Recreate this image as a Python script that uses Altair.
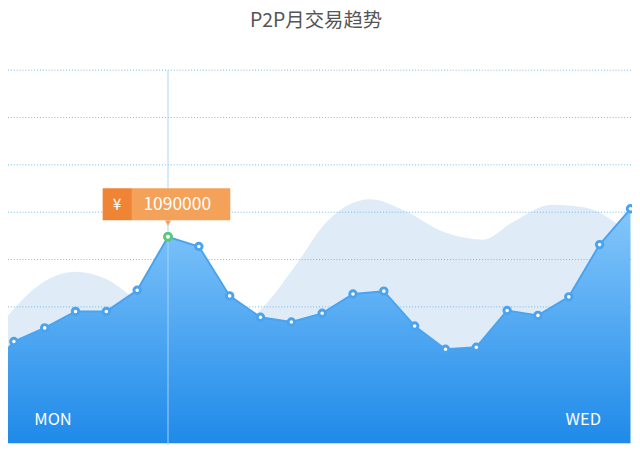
import altair as alt
import pandas as pd

# foreground series (day index, value)
idx = [-0.5, 0, 1, 2, 3, 4, 5, 6, 7, 8, 9, 10, 11, 12, 13, 14, 15, 16, 17, 18, 19, 20]
vals = [440000, 537000, 609000, 696000, 696000, 808000, 1090000, 1039000, 778000, 665000, 640000,
        686000, 788000, 803000, 619000, 496000, 507000, 701000, 675000, 773000, 1049000, 1238000]
# background smooth series
bg_x = [-0.19, 0.89, 2.0, 2.96, 4.08, 5.35, 6.94, 8.06, 9.17, 10.13, 11.56, 12.68, 13.95, 15.22, 16.18, 17.45, 18.57, 20]
bg_v = [675000, 844000, 906000, 870000, 742000, 588000, 588000, 716000, 947000, 1167000, 1289000,
        1228000, 1115000, 1075000, 1167000, 1259000, 1243000, 1100000]
grid_vals = [720000, 970000, 1220000, 1470000, 1720000, 1970000]
hi_idx = 5
hi_val = 1090000
labels = ["MON", "WED"]
label_x = [1.27, 18.47]

X = alt.Scale(domain=[-0.19, 20.05], nice=False, zero=False)
Y = alt.Scale(domain=[-10000, 2262000], nice=False, zero=False)
noax = dict(axis=None)

fg = pd.DataFrame({"i": idx, "v": vals})
pts = fg[fg.i >= 0]
bg = pd.DataFrame({"i": bg_x, "v": bg_v})

bg_area = alt.Chart(bg).mark_area(color="#dfecf8", opacity=1, interpolate="monotone", clip=True).encode(
    x=alt.X("i:Q", scale=X, **noax), y=alt.Y("v:Q", scale=Y, **noax))

grid = alt.Chart(pd.DataFrame({"g": grid_vals})).mark_rule(
    color="#6fb8e8", strokeDash=[1, 2], strokeWidth=1).encode(
    y=alt.Y("g:Q", scale=Y, **noax), x=alt.value(0), x2=alt.value(644))

area = alt.Chart(fg).mark_area(
    clip=True, opacity=1,
    line={"color": "#4aa3ef", "strokeWidth": 2},
    color=alt.Gradient(gradient="linear", x1=0, x2=0, y1=0, y2=1,
                       stops=[alt.GradientStop(color="#84c7fb", offset=0),
                              alt.GradientStop(color="#1f8ae9", offset=1)])).encode(
    x=alt.X("i:Q", scale=X, **noax), y=alt.Y("v:Q", scale=Y, **noax))

rule = alt.Chart(pd.DataFrame({"i": [hi_idx], "a": [1970000], "b": [-10000]})).mark_rule(
    color="#a9d6f5", strokeWidth=1).encode(
    x=alt.X("i:Q", scale=X, **noax), y=alt.Y("a:Q", scale=Y, **noax), y2="b:Q")

points = alt.Chart(pts).mark_point(filled=True, fill="white", stroke="#4aa3ef",
                                   strokeWidth=3, size=45, opacity=1).encode(
    x=alt.X("i:Q", scale=X, **noax), y=alt.Y("v:Q", scale=Y, **noax))

hp = alt.Chart(pd.DataFrame({"i": [hi_idx], "v": [hi_val]})).mark_point(
    filled=True, fill="white", stroke="#5cc87a", strokeWidth=3, size=50, opacity=1).encode(
    x=alt.X("i:Q", scale=X, **noax), y=alt.Y("v:Q", scale=Y, **noax))

box = pd.DataFrame({"x": [2.88, 3.83], "x2": [3.83, 7.02], "c": ["#ee8434", "#f4a259"]})
tip = alt.Chart(box).mark_rect().encode(
    x=alt.X("x:Q", scale=X, **noax), x2="x2:Q",
    y=alt.value(179), y2=alt.value(212), color=alt.Color("c:N", scale=None, legend=None))
tri = alt.Chart(pd.DataFrame({"i": [hi_idx]})).mark_point(
    shape="triangle-down", filled=True, color="#f4a259", size=40, opacity=1).encode(
    x=alt.X("i:Q", scale=X, **noax), y=alt.value(215))
t1 = alt.Chart(pd.DataFrame({"i": [3.35], "t": ["¥"]})).mark_text(
    color="white", fontSize=16, font="Noto Sans CJK SC").encode(
    x=alt.X("i:Q", scale=X, **noax), y=alt.value(196), text="t:N")
t2 = alt.Chart(pd.DataFrame({"i": [5.3], "t": [str(hi_val)]})).mark_text(
    color="white", fontSize=18, font="Noto Sans CJK SC").encode(
    x=alt.X("i:Q", scale=X, **noax), y=alt.value(196), text="t:N")

lab = alt.Chart(pd.DataFrame({"i": label_x, "t": labels})).mark_text(
    color="white", fontSize=17, font="Noto Sans CJK SC").encode(
    x=alt.X("i:Q", scale=X, **noax), y=alt.value(418), text="t:N")

title = alt.Chart(pd.DataFrame({"t": ["P2P月交易趋势"]})).mark_text(
    color="#555555", fontSize=20, font="Noto Sans CJK SC", baseline="top").encode(
    x=alt.value(318), y=alt.value(-4), text="t:N")

chart = alt.layer(bg_area, grid, area, rule, points, hp, tip, tri, t1, t2, lab, title).properties(
    width=644, height=444, padding=0, autosize=alt.AutoSizeParams(type="none")
).configure_view(stroke=None)

chart.save("out.html", embed_options={"renderer": "svg", "actions": False})
